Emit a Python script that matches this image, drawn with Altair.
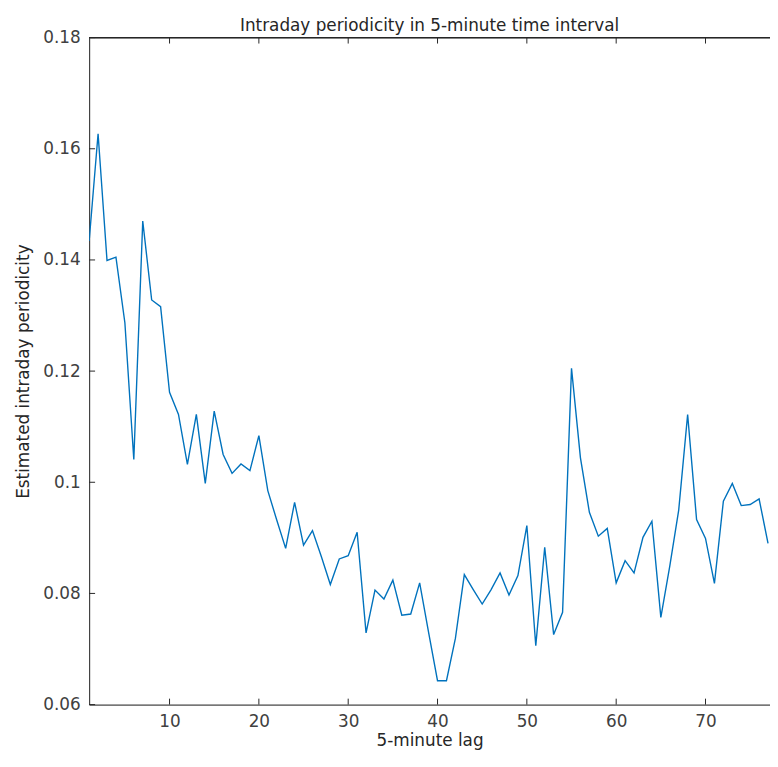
import altair as alt
import pandas as pd

lags = list(range(1, 78))
periodicity = [
    0.1434, 0.1627, 0.1399, 0.1405, 0.1287, 0.1041, 0.1470, 0.1328, 0.1316, 0.1162,
    0.1122, 0.1032, 0.1122, 0.0998, 0.1128, 0.1050, 0.1016, 0.1033, 0.1021, 0.1084,
    0.0985, 0.0932, 0.0881, 0.0964, 0.0887, 0.0913, 0.0866, 0.0816, 0.0862, 0.0868,
    0.0910, 0.0729, 0.0806, 0.0790, 0.0824, 0.0761, 0.0763, 0.0819, 0.0730, 0.0643,
    0.0643, 0.0719, 0.0834, 0.0807, 0.0781, 0.0807, 0.0837, 0.0797, 0.0832, 0.0922,
    0.0706, 0.0883, 0.0726, 0.0766, 0.1205, 0.1044, 0.0946, 0.0903, 0.0917, 0.0819,
    0.0859, 0.0837, 0.0901, 0.0930, 0.0757, 0.0849, 0.0950, 0.1122, 0.0933, 0.0899,
    0.0818, 0.0966, 0.0998, 0.0958, 0.0960, 0.0970, 0.0890,
]
x_ticks = [10, 20, 30, 40, 50, 60, 70]
y_ticks = [0.06, 0.08, 0.10, 0.12, 0.14, 0.16, 0.18]
x_domain = [1, 77.22]
y_domain = [0.06, 0.18]
title_text = ["Intraday periodicity in 5-minute time interval"]

W = 688
H = 674
FONT = "DejaVu Sans"
AX = "#262626"
LAB = "#404040"

df = pd.DataFrame({"lag": lags, "value": periodicity})
xt = pd.DataFrame({"t": x_ticks})
yt = pd.DataFrame({"t": y_ticks})
tt = pd.DataFrame({"title": title_text})

xscale = alt.Scale(domain=x_domain, nice=False, zero=False)
yscale = alt.Scale(domain=y_domain, nice=False, zero=False)

line = alt.Chart(df).mark_line(color="#0072BD", strokeWidth=1.4, clip=True).encode(
    x=alt.X("lag:Q", scale=xscale,
            axis=alt.Axis(values=x_ticks, ticks=False, domain=True, domainColor=AX,
                          domainWidth=1, grid=False,
                          labelPadding=9, labelFontSize=17, labelColor=LAB,
                          labelFont=FONT, title="5-minute lag", titleFont=FONT,
                          titleFontSize=17, titleFontWeight="normal",
                          titleColor=AX, titlePadding=3)),
    y=alt.Y("value:Q", scale=yscale,
            axis=alt.Axis(values=y_ticks, ticks=False, domain=True, domainColor=AX,
                          domainWidth=1, grid=False,
                          format=".2~f", labelPadding=9, labelFontSize=17,
                          labelColor=LAB, labelFont=FONT,
                          title="Estimated intraday periodicity", titleFont=FONT,
                          titleFontSize=17, titleFontWeight="normal",
                          titleColor=AX, titlePadding=10)),
)

title = alt.Chart(tt).mark_text(
    font=FONT, fontSize=17, color=AX, align="center", baseline="alphabetic"
).encode(x=alt.value(W / 2), y=alt.value(-7), text="title:N")

top_border = alt.Chart(xt).mark_rule(color=AX, strokeWidth=1).encode(
    x=alt.value(0), x2=alt.value(W), y=alt.value(0))
xtick_bottom = alt.Chart(xt).mark_rule(color=AX, strokeWidth=1).encode(
    x=alt.X("t:Q", scale=xscale), y=alt.value(H), y2=alt.value(H - 6))
xtick_top = alt.Chart(xt).mark_rule(color=AX, strokeWidth=1).encode(
    x=alt.X("t:Q", scale=xscale), y=alt.value(0), y2=alt.value(6))
ytick_left = alt.Chart(yt).mark_rule(color=AX, strokeWidth=1).encode(
    y=alt.Y("t:Q", scale=yscale), x=alt.value(0), x2=alt.value(6))

chart = alt.layer(line, top_border, xtick_bottom, xtick_top, ytick_left, title).properties(
    width=W, height=H,
    autosize=alt.AutoSizeParams(type="none"),
    padding={"left": 82, "top": 26, "right": 0, "bottom": 46},
).configure_view(strokeWidth=0).configure(background="white")

chart.save("out.html", embed_options={"renderer": "svg", "actions": False})
